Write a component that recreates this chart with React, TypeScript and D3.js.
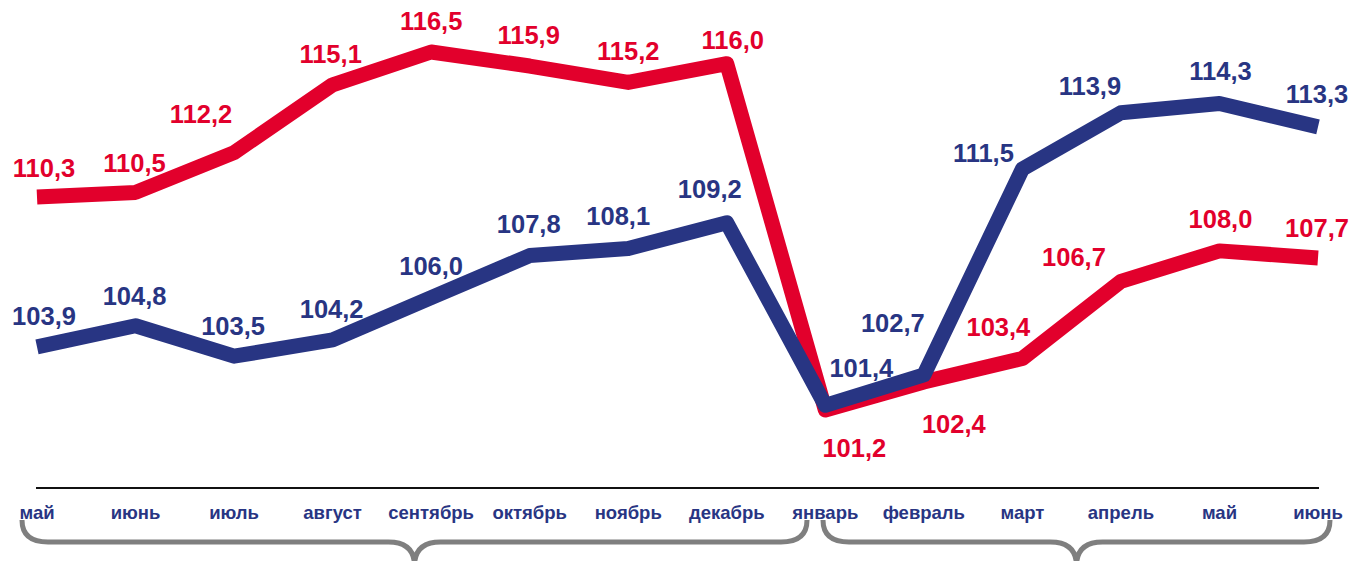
import { useEffect, useRef } from "react";
import * as d3 from "d3";

const months = [
  "май", "июнь", "июль", "август", "сентябрь", "октябрь", "ноябрь",
  "декабрь", "январь", "февраль", "март", "апрель", "май", "июнь",
];

const redValues = [110.3, 110.5, 112.2, 115.1, 116.5, 115.9, 115.2, 116.0, 101.2, 102.4, 103.4, 106.7, 108.0, 107.7];
const blueValues = [103.9, 104.8, 103.5, 104.2, 106.0, 107.8, 108.1, 109.2, 101.4, 102.7, 111.5, 113.9, 114.3, 113.3];

// label placement relative to each point [dx, dy of baseline]
const redLabelOffset: [number, number][] = [
  [7, -20], [-1, -20], [-33, -30], [-2, -22], [0, -22], [-1, -22], [0, -22],
  [6, -15], [29, 47], [30, 51], [-24, -23], [-47, -15], [1, -23], [-1, -21],
];
const blueLabelOffset: [number, number][] = [
  [7, -22], [-1, -21], [-1, -21], [-1, -22], [0, -23], [-1, -23], [-10, -24],
  [-17, -25], [36, -28], [-31, -43], [-39, -7], [-31, -18], [1, -23], [-1, -24],
];

// which months each brace spans (first and last index)
const braceGroups: [number, number][] = [[0, 8], [8, 13]];

const RED = "#e2002c";
const BLUE = "#283583";
const FONT = "'Liberation Sans', Arial, sans-serif";

export default function App() {
  const svgRef = useRef<SVGSVGElement | null>(null);

  useEffect(() => {
    if (!svgRef.current) return;
    const svg = d3.select(svgRef.current);
    svg.selectAll("*").remove();

    const x = d3
      .scalePoint<number>()
      .domain(d3.range(months.length))
      .range([37, 1318]);
    const y = d3.scaleLinear().domain([101.2, 116.5]).range([410, 52]);
    const axisY = 488;

    // x axis line
    svg
      .append("line")
      .attr("x1", 36)
      .attr("x2", 1319)
      .attr("y1", axisY)
      .attr("y2", axisY)
      .attr("stroke", "#111")
      .attr("stroke-width", 2);

    svg
      .append("g")
      .selectAll("text")
      .data(months)
      .join("text")
      .attr("x", (_, i) => x(i)!)
      .attr("y", 519)
      .attr("text-anchor", "middle")
      .attr("font-family", FONT)
      .attr("font-weight", "bold")
      .attr("font-size", 18.5)
      .attr("fill", BLUE)
      .text((d) => d);

    // braces under month groups
    const braceX: [number, number][] = [[22, 807], [823, 1330]];
    const brace = (x0: number, x1: number) => {
      const y0 = 520;
      const y1 = 542;
      const y2 = 566;
      const cx = (x0 + x1) / 2;
      const r = 26;
      return `M${x0},${y0} Q${x0},${y1} ${x0 + r},${y1} L${cx - r},${y1} Q${cx},${y1} ${cx},${y2} M${cx},${y2} Q${cx},${y1} ${cx + r},${y1} L${x1 - r},${y1} Q${x1},${y1} ${x1},${y0}`;
    };
    svg
      .append("g")
      .selectAll("path")
      .data(braceGroups)
      .join("path")
      .attr("d", (_, i) => brace(braceX[i][0], braceX[i][1]))
      .attr("fill", "none")
      .attr("stroke", "#7f7f7f")
      .attr("stroke-width", 5);

    const line = d3
      .line<number>()
      .x((_, i) => x(i)!)
      .y((d) => y(d));

    const series = [
      { values: redValues, color: RED, offsets: redLabelOffset },
      { values: blueValues, color: BLUE, offsets: blueLabelOffset },
    ];

    series.forEach((s) => {
      svg
        .append("path")
        .datum(s.values)
        .attr("d", line)
        .attr("fill", "none")
        .attr("stroke", s.color)
        .attr("stroke-width", 15)
        .attr("stroke-linejoin", "round")
        .attr("stroke-linecap", "butt");
    });

    series.forEach((s) => {
      svg
        .append("g")
        .selectAll("text")
        .data(s.values)
        .join("text")
        .attr("x", (_, i) => x(i)! + s.offsets[i][0])
        .attr("y", (d, i) => y(d) + s.offsets[i][1])
        .attr("text-anchor", "middle")
        .attr("font-family", FONT)
        .attr("font-weight", "bold")
        .attr("font-size", 25.5)
        .attr("fill", s.color)
        .text((d) => d.toFixed(1).replace(".", ","));
    });
  }, []);

  return (
    <div style={{ position: "fixed", left: 0, top: 0, width: 1353, height: 561, background: "#fff" }}>
      <svg ref={svgRef} width={1353} height={561} style={{ display: "block" }} />
    </div>
  );
}
